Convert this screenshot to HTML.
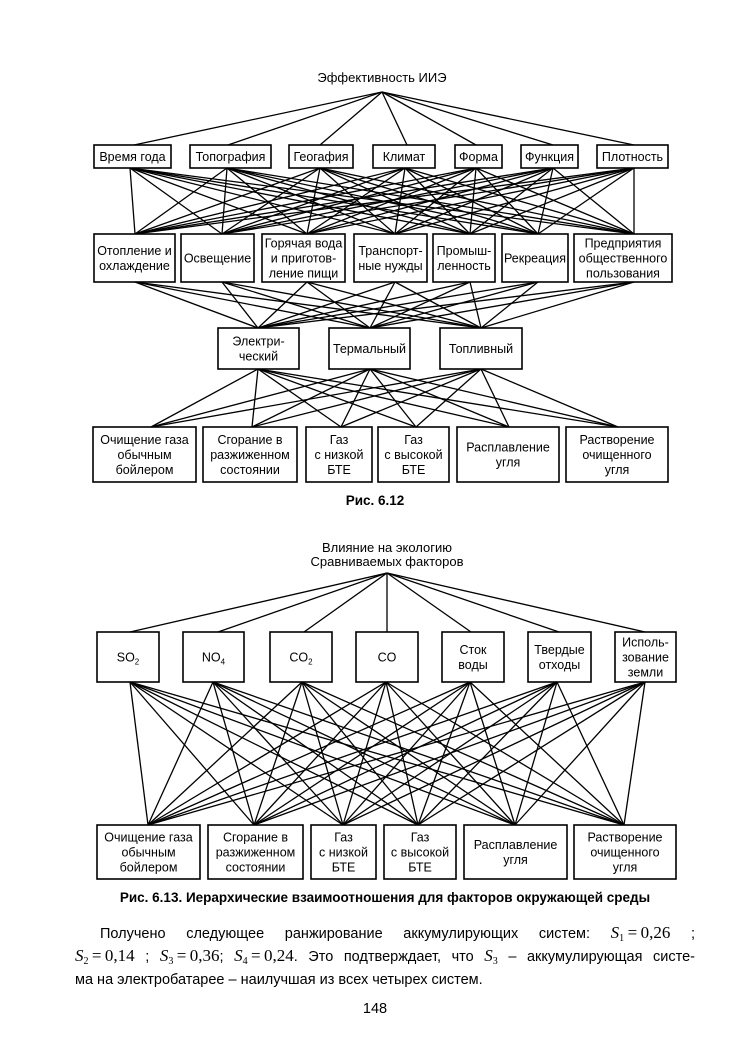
<!DOCTYPE html>
<html><head><meta charset="utf-8">
<style>
body{margin:0;background:#fff;width:750px;height:1061px;overflow:hidden;position:relative;font-family:"Liberation Sans",sans-serif;}
svg{position:absolute;left:0;top:0}
.p{position:absolute;left:75px;width:620px;font-size:14.5px;line-height:20px;white-space:nowrap;color:#000}
.j{text-align:justify;text-align-last:justify}
.m{font-family:"Liberation Serif",serif;font-size:17px;white-space:nowrap}
.m i{font-style:italic}
.m sub{font-size:10px;vertical-align:-3px}
</style></head><body>
<svg id="s" width="750" height="1061" xmlns="http://www.w3.org/2000/svg" font-family="Liberation Sans, sans-serif" font-size="12.5" text-anchor="middle">
<g id="ln" stroke="#000" stroke-width="1.3"></g>
<g id="bx" fill="#fff" stroke="#000" stroke-width="1.6"></g>
<g id="tx" fill="#000"></g>
<text x="382" y="82" font-size="13">Эффективность ИИЭ</text>
<text x="375" y="505" font-size="13.5" font-weight="bold">Рис. 6.12</text>
<text x="387" y="552" font-size="13">Влияние на экологию</text>
<text x="387" y="566" font-size="13">Сравниваемых факторов</text>
<text x="385" y="902" font-size="13.5" font-weight="bold">Рис. 6.13. Иерархические взаимоотношения для факторов окружающей среды</text>
<text x="375" y="1013" font-size="14.5">148</text>
</svg>
<div class="p j" style="top:923px;left:100px;width:595px">Получено следующее ранжирование аккумулирующих систем: <span class="m"><i>S</i><sub>1</sub>&#8201;=&#8201;0,26</span>&nbsp;;</div>
<div class="p j" style="top:946px"><span class="m"><i>S</i><sub>2</sub>&#8201;=&#8201;0,14</span>&nbsp;; <span class="m"><i>S</i><sub>3</sub>&#8201;=&#8201;0,36</span>; <span class="m"><i>S</i><sub>4</sub>&#8201;=&#8201;0,24</span>. Это подтверждает, что <span class="m"><i>S</i><sub>3</sub></span> – аккумулирующая систе-</div>
<div class="p" style="top:970px">ма на электробатарее – наилучшая из всех четырех систем.</div>
<script>
var NS="http://www.w3.org/2000/svg";
function el(g,n,a){var e=document.createElementNS(NS,n);for(var k in a)e.setAttribute(k,a[k]);document.getElementById(g).appendChild(e);return e;}
function L(x1,y1,x2,y2){el("ln","line",{x1:x1,y1:y1,x2:x2,y2:y2});}
function box(x1,y1,x2,y2,lines){el("bx","rect",{x:x1,y:y1,width:x2-x1,height:y2-y1});
 var cx=(x1+x2)/2,cy=(y1+y2)/2,n=lines.length,lh=15;
 for(var i=0;i<n;i++){var t=el("tx","text",{x:cx,y:cy+(i-(n-1)/2)*lh+4.5});t.innerHTML=lines[i];}}
function full(A,ya,B,yb){A.forEach(function(a){B.forEach(function(b){L(a,ya,b,yb);});});}
var L1=[[94,171,["Время года"]],[190,271,["Топография"]],[289,353,["Геогафия"]],[373,435,["Климат"]],[455,502,["Форма"]],[521,578,["Функция"]],[597,668,["Плотность"]]];
var L1t=[134,228,320,407,476,553,634],L1b=[130,227,320,405,476,553,634];
var L2=[[94,175,["Отопление и","охлаждение"]],[181,254,["Освещение"]],[262,345,["Горячая вода","и приготов-","ление пищи"]],[354,427,["Транспорт-","ные нужды"]],[433,495,["Промыш-","ленность"]],[502,568,["Рекреация"]],[574,672,["Предприятия","общественного","пользования"]]];
var L2p=[135,222,307,395,470,538,634];
var L3=[[218,299,["Электри-","ческий"]],[329,410,["Термальный"]],[440,522,["Топливный"]]];
var L3p=[258,370,481];
var L4=[[93,196,["Очищение газа","обычным","бойлером"]],[203,297,["Сгорание в","разжиженном","состоянии"]],[306,372,["Газ","с низкой","БТЕ"]],[378,449,["Газ","с высокой","БТЕ"]],[457,559,["Расплавление","угля"]],[566,668,["Растворение","очищенного","угля"]]];
var L4p=[151,252,341,416,509,618];
L1t.forEach(function(x){L(382,92,x,145);});
full(L1b,168,L2p,234);
full(L2p,282,L3p,328);
full(L3p,369,L4p,427);
L1.forEach(function(b){box(b[0],145,b[1],168,b[2]);});
L2.forEach(function(b){box(b[0],234,b[1],282,b[2]);});
L3.forEach(function(b){box(b[0],328,b[1],369,b[2]);});
L4.forEach(function(b){box(b[0],427,b[1],482,b[2]);});
var M1=[[97,159,["SO<tspan font-size='8' dy='3'>2</tspan>"]],[183,244,["NO<tspan font-size='8' dy='3'>4</tspan>"]],[270,332,["CO<tspan font-size='8' dy='3'>2</tspan>"]],[356,418,["CO"]],[442,504,["Сток","воды"]],[528,591,["Твердые","отходы"]],[615,676,["Исполь-","зование","земли"]]];
var M1t=[130,218,304,387,471,559,645],M1b=[130,213,302,386,470,557,645];
var M2=[[97,200,["Очищение газа","обычным","бойлером"]],[208,303,["Сгорание в","разжиженном","состоянии"]],[311,376,["Газ","с низкой","БТЕ"]],[384,456,["Газ","с высокой","БТЕ"]],[464,567,["Расплавление","угля"]],[574,676,["Растворение","очищенного","угля"]]];
var M2p=[148,254,343,418,515,624];
M1t.forEach(function(x){L(387,573,x,632);});
full(M1b,682,M2p,825);
M1.forEach(function(b){box(b[0],632,b[1],682,b[2]);});
M2.forEach(function(b){box(b[0],825,b[1],879,b[2]);});
</script>
</body></html>
